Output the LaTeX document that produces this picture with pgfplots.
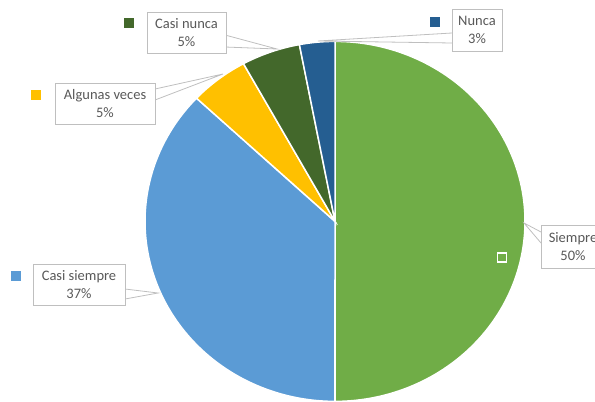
\documentclass[border=0pt]{standalone}
\usepackage{pgfplots}
\pgfplotsset{compat=1.18}
\usepackage{fontspec}
\setmainfont{Carlito}
\definecolor{cSiempre}{HTML}{70AD47}
\definecolor{cCasiSiempre}{HTML}{5B9BD5}
\definecolor{cAlgunas}{HTML}{FFC000}
\definecolor{cCasiNunca}{HTML}{43682B}
\definecolor{cNunca}{HTML}{255E91}
\definecolor{txt}{HTML}{595959}
\definecolor{frm}{HTML}{BFBFBF}
% shares in percent
\def\pSiempre{50}
\def\pCasiSiempre{37}
\def\pAlgunas{5}
\def\pCasiNunca{5}
\def\pNunca{3}
% cumulative angles, clockwise from the top
\pgfmathsetmacro\aA{90}
\pgfmathsetmacro\aB{\aA-3.6*\pSiempre}
\pgfmathsetmacro\aC{\aB-3.6*\pCasiSiempre}
\pgfmathsetmacro\aD{\aC-3.6*\pAlgunas}
\pgfmathsetmacro\aE{\aD-3.6*\pCasiNunca}
\pgfmathsetmacro\aF{\aE-3.6*\pNunca}
\def\cx{335}\def\cy{221.4}\def\rx{190}\def\ry{180}
\tikzset{lbl/.style={draw=frm, line width=0.8bp, fill=white, text=txt, align=center,
  inner sep=0pt, minimum height=41bp, font=\fontsize{14.5bp}{18bp}\selectfont}}
\begin{document}
\begin{tikzpicture}
\begin{axis}[at={(0,0)}, anchor=south west, scale only axis, width=595bp, height=402bp,
  xmin=0, xmax=595, ymin=0, ymax=402, y dir=reverse, hide axis, clip=false]
\addplot[fill=cSiempre, draw=white, line width=1.5bp, domain=\aB:\aA, samples=120]
  ({\cx+\rx*cos(x)},{\cy-\ry*sin(x)}) -- (axis cs:\cx,\cy) -- cycle;
\addplot[fill=cCasiSiempre, draw=white, line width=1.5bp, domain=\aC:\aB, samples=100]
  ({\cx+\rx*cos(x)},{\cy-\ry*sin(x)}) -- (axis cs:\cx,\cy) -- cycle;
\addplot[fill=cAlgunas, draw=white, line width=1.5bp, domain=\aD:\aC, samples=20]
  ({\cx+\rx*cos(x)},{\cy-\ry*sin(x)}) -- (axis cs:\cx,\cy) -- cycle;
\addplot[fill=cCasiNunca, draw=white, line width=1.5bp, domain=\aE:\aD, samples=20]
  ({\cx+\rx*cos(x)},{\cy-\ry*sin(x)}) -- (axis cs:\cx,\cy) -- cycle;
\addplot[fill=cNunca, draw=white, line width=1.5bp, domain=\aF:\aE, samples=20]
  ({\cx+\rx*cos(x)},{\cy-\ry*sin(x)}) -- (axis cs:\cx,\cy) -- cycle;
% leader lines
\addplot[frm, line width=0.8bp] coordinates {(125,289) (158,293) (125,299)};
\addplot[frm, line width=0.8bp] coordinates {(225,35) (277,49) (225,47)};
\addplot[frm, line width=0.8bp] coordinates {(155,89) (223,74) (155,100)};
\addplot[frm, line width=0.8bp] coordinates {(452,33) (318,41) (452,43)};
\addplot[frm, line width=0.8bp] coordinates {(541,232) (524,223) (541,243)};
% label boxes
\node[lbl, minimum width=79bp] at (axis cs:186.5,32.5) {Casi nunca\\5\%};
\node[lbl, minimum width=100bp] at (axis cs:105,103.5) {Algunas veces\\5\%};
\node[lbl, minimum width=50bp, minimum height=42bp] at (axis cs:477,30) {Nunca\\3\%};
\node[lbl, minimum width=64bp, minimum height=43bp] at (axis cs:573,246.5) {Siempre\\50\%};
\node[lbl, minimum width=92bp] at (axis cs:79,284.5) {Casi siempre\\37\%};
% legend keys
\addplot[only marks, mark=square*, mark size=4.5bp, mark options={fill=cCasiNunca, draw=cCasiNunca}] coordinates {(128.5,23)};
\addplot[only marks, mark=square*, mark size=4.5bp, mark options={fill=cAlgunas, draw=cAlgunas}] coordinates {(35.5,94.5)};
\addplot[only marks, mark=square*, mark size=4.5bp, mark options={fill=cNunca, draw=cNunca}] coordinates {(434.5,21.5)};
\addplot[only marks, mark=square*, mark size=4.5bp, mark options={fill=cSiempre, draw=white, line width=1.2bp}] coordinates {(502,257.5)};
\addplot[only marks, mark=square*, mark size=4.5bp, mark options={fill=cCasiSiempre, draw=cCasiSiempre}] coordinates {(15.5,276)};
\end{axis}
\pgfresetboundingbox
\path[use as bounding box] (0,0) rectangle (595bp,402bp);
\end{tikzpicture}
\end{document}
